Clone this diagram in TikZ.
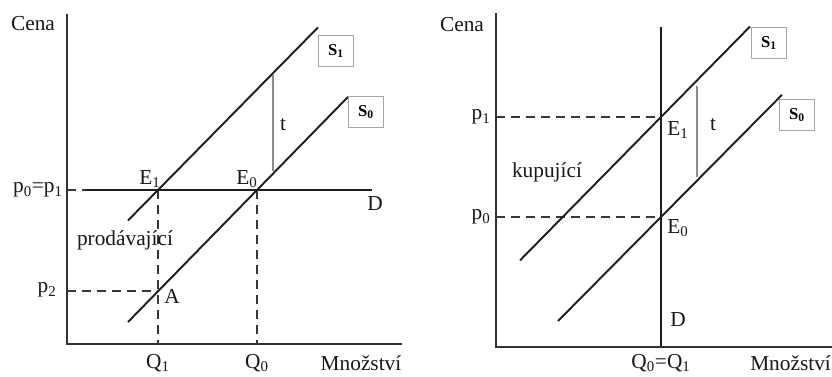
\documentclass[tikz,border=0pt]{standalone}
\usepackage{fontspec}
\setmainfont{Liberation Serif}
\begin{document}
\begin{tikzpicture}[x=0.75pt,y=-0.75pt,
  font=\fontsize{16}{19}\selectfont,
  axisline/.style={line width=1.8pt,draw=black!80},
  curveline/.style={line width=1.45pt,draw=black!88},
  guideline/.style={line width=1.35pt,draw=black!78,dash pattern=on 6.75pt off 4.5pt},
  taxline/.style={line width=1.1pt,draw=black!45},
  lbl/.style={inner sep=0pt,text=black!90},
  sbox/.style={draw=black!35,line width=0.8pt,inner sep=0pt,minimum width=26.5pt,minimum height=23pt,font=\fontsize{12.5}{14}\selectfont\bfseries}
]
\useasboundingbox (0,0) rectangle (832,376);
\clip (0,0) rectangle (832,376);
\fill[white] (0,0) rectangle (832,376);

% ---------- left panel ----------
\coordinate (LY) at (67,14);
\coordinate (LO) at (67,344);
\coordinate (LX) at (402,344);
\coordinate (LE1) at (158,190);
\coordinate (LE0) at (257,190);
\coordinate (LA) at (158,291.3);
\coordinate (LS1a) at (128,220.5);
\coordinate (LS1b) at (318,27.4);
\coordinate (LS0a) at (128,322);
\coordinate (LS0b) at (348,96.9);
\coordinate (LDa) at (86,190);
\coordinate (LDb) at (372,190);
\coordinate (LP) at (67,190);
\coordinate (LP2) at (67,291.3);
\coordinate (LQ1) at (158,344);
\coordinate (LQ0) at (257,344);
\coordinate (Lta) at (273,75);
\coordinate (Ltb) at (273,171);

\draw[guideline] (LP) -- (LE1);
\draw[guideline] (LE1) -- (LQ1);
\draw[guideline] (LE0) -- (LQ0);
\draw[guideline] (LP2) -- (LA);
\draw[curveline] (LDa) -- (LDb);
\draw[curveline] (LS1a) -- (LS1b);
\draw[curveline] (LS0a) -- (LS0b);
\draw[taxline] (Lta) -- (Ltb);
\draw[axisline] (LY) -- (LO) -- (LX);

\node[lbl] (cenaL) at (33,24) {Cena};
\node[lbl,anchor=east] (p01L) at (63,190) {p\textsubscript{0}=p\textsubscript{1}};
\node[lbl] (p2L) at (47,290) {p\textsubscript{2}};
\node[lbl] (E1L) at (150,179) {E\textsubscript{1}};
\node[lbl] (E0L) at (247,179) {E\textsubscript{0}};
\node[lbl] (DL) at (375,204) {D};
\node[lbl] (prodL) at (125,240) {prodávající};
\node[lbl] (AL) at (172,296) {A};
\node[lbl] (Q1L) at (158,363) {Q\textsubscript{1}};
\node[lbl] (Q0L) at (257,363) {Q\textsubscript{0}};
\node[lbl] (mnL) at (361,363) {Množství};
\node[lbl] (tL) at (283,125) {t};
\node[sbox] (S1L) at (336,51) {S\textsubscript{1}};
\node[sbox] (S0L) at (366,112) {S\textsubscript{0}};

% ---------- right panel ----------
\coordinate (RY) at (496,13);
\coordinate (RO) at (496,347);
\coordinate (RX) at (832,347);
\coordinate (RE1) at (661,117);
\coordinate (RE0) at (661,217);
\coordinate (RS1a) at (520,260.4);
\coordinate (RS1b) at (750,26.5);
\coordinate (RS0a) at (558,321);
\coordinate (RS0b) at (782,94.8);
\coordinate (RDa) at (661,27);
\coordinate (RDb) at (661,347);
\coordinate (RP1) at (496,117);
\coordinate (RP0) at (496,217);
\coordinate (Rta) at (697,86);
\coordinate (Rtb) at (697,177);

\draw[guideline] (RP1) -- (RE1);
\draw[guideline] (RP0) -- (RE0);
\draw[curveline] (RDa) -- (RDb);
\draw[curveline] (RS1a) -- (RS1b);
\draw[curveline] (RS0a) -- (RS0b);
\draw[taxline] (Rta) -- (Rtb);
\draw[axisline] (RY) -- (RO) -- (RX);

\node[lbl] (cenaR) at (462,25) {Cena};
\node[lbl] (p1R) at (481,117) {p\textsubscript{1}};
\node[lbl] (p0R) at (481,217) {p\textsubscript{0}};
\node[lbl] (E1R) at (678,130) {E\textsubscript{1}};
\node[lbl] (E0R) at (678,228) {E\textsubscript{0}};
\node[lbl] (DR) at (678,320) {D};
\node[lbl] (tR) at (713,125) {t};
\node[lbl] (kupR) at (547,172) {kupující};
\node[lbl] (QR) at (661,363) {Q\textsubscript{0}=Q\textsubscript{1}};
\node[lbl,anchor=west] (mnR) at (750,363) {Množství};
\node[sbox] (S1R) at (769,43) {S\textsubscript{1}};
\node[sbox] (S0R) at (797,115) {S\textsubscript{0}};
\end{tikzpicture}
\end{document}
